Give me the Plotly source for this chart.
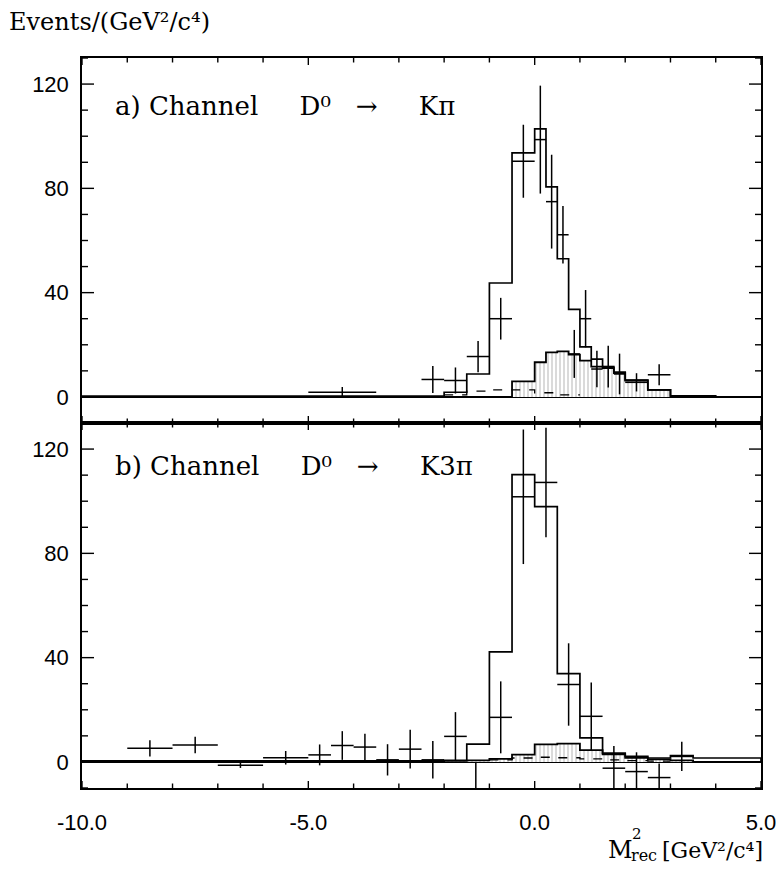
import plotly.graph_objects as go

# ---------------- data: panel a) D0 -> K pi ----------------
a_data_lo = [-5.0, -2.5, -2.0, -1.5, -1.0, -0.5, 0.0, 0.25, 0.5, 0.75, 1.0, 1.25, 1.5, 1.75, 2.0, 2.5]
a_data_hi = [-3.5, -2.0, -1.5, -1.0, -0.5, 0.0, 0.25, 0.5, 0.75, 1.0, 1.25, 1.5, 1.75, 2.0, 2.5, 3.0]
a_data_val = [1.8, 6.7, 6.3, 15.5, 30.0, 90.4, 98.7, 74.9, 62.2, 16.5, 30.0, 10.7, 11.6, 8.8, 5.6, 8.5]
a_data_err = [2.0, 5.2, 5.0, 6.0, 8.0, 14.0, 20.7, 18.0, 11.0, 9.2, 11.0, 7.0, 8.0, 7.8, 3.5, 4.0]

a_mc_edges = [-10.0, -2.0, -1.5, -1.0, -0.5, 0.0, 0.25, 0.5, 0.75, 1.0, 1.25, 1.5, 1.75, 2.0, 2.5, 3.0, 4.0]
a_mc_val = [0.3, 1.8, 8.8, 43.7, 93.6, 102.8, 80.6, 53.0, 33.6, 19.2, 14.5, 11.6, 9.5, 6.5, 2.7, 0.4]

a_bkg_edges = [-0.5, 0.0, 0.25, 0.5, 0.75, 1.0, 1.25, 1.5, 1.75, 2.0, 2.5, 3.0]
a_bkg_val = [6.0, 13.3, 17.1, 17.5, 16.2, 13.9, 11.6, 11.1, 9.1, 6.3, 2.7]

a_dash_edges = [-2.0, -1.5, -1.0, -0.5, 0.0, 0.5, 1.0]
a_dash_val = [0.8, 2.2, 2.7, 2.7, 1.6, 0.8]

# ---------------- data: panel b) D0 -> K 3pi ----------------
b_data_lo = [-9.0, -8.0, -7.0, -6.0, -5.0, -4.5, -4.0, -3.5, -3.0, -2.5, -2.0, -1.0, -0.5, 0.0, 0.5, 1.0, 1.5, 2.0, 2.5, 3.0]
b_data_hi = [-8.0, -7.0, -6.0, -5.0, -4.5, -4.0, -3.5, -3.0, -2.5, -2.0, -1.5, -0.5, 0.0, 0.5, 1.0, 1.5, 2.0, 2.5, 3.0, 3.5]
b_data_val = [5.2, 6.5, -1.3, 1.6, 2.7, 6.3, 5.7, 0.8, 4.9, 0.8, 9.8, 17.1, 101.7, 107.2, 29.7, 17.5, -2.4, -3.7, -6.0, 2.1]
b_data_err = [3.1, 3.2, 1.0, 2.6, 4.0, 5.5, 5.1, 6.0, 7.4, 7.2, 9.3, 13.8, 25.8, 21.0, 15.8, 13.0, 8.5, 7.4, 5.4, 5.6]

b_mc_edges = [-10.0, -1.5, -1.0, -0.5, 0.0, 0.5, 1.0, 1.5, 2.0, 2.5, 3.0, 3.5, 5.0]
b_mc_val = [0.4, 6.8, 42.2, 110.2, 97.9, 33.9, 9.2, 3.4, 2.1, 1.5, 2.4, 1.5]

b_bkg_edges = [-2.0, -1.0, -0.5, 0.0, 0.5, 1.0, 1.5, 2.0, 2.5, 3.0, 3.5]
b_bkg_val = [0.6, 1.2, 2.8, 6.7, 7.0, 4.5, 2.9, 1.6, 1.0, 0.6]

b_dash_edges = [-1.0, -0.5, 0.0, 0.5, 1.0, 1.5, 2.0, 2.5, 3.0]
b_dash_val = [0.8, 1.5, 1.8, 1.6, 1.2, 0.8, 0.5, 0.3]

b_cut_x = [-1.3, -1.3]
b_cut_y = [0.0, -10.0]

X_RANGE = [-10, 5]
Y_RANGE = [-10, 130]
x_tickvals = [-10, -5, 0, 5]
x_ticktext = ["-10.0", "-5.0", "0.0", "5.0"]
x_minorvals = list(range(-10, 6))
y_tickvals = [0, 40, 80, 120]
y_ticktext = ["0", "40", "80", "120"]
y_minorvals = list(range(-10, 131, 10))

SERIF = "DejaVu Serif"
SANS = "Liberation Sans, Arial, sans-serif"

PL, PR, PT, PB = 82, 761, 58, 788   # plot frame in page pixels
W, H = 780, 877
PANEL_H = (PB - PT) / 2
PLOT_W = PR - PL
X_PER_PX = (X_RANGE[1] - X_RANGE[0]) / PLOT_W
Y_PER_PX = (Y_RANGE[1] - Y_RANGE[0]) / PANEL_H


def step_xy(edges, vals, close=True):
    xs, ys = [], []
    if close:
        xs.append(edges[0]); ys.append(0)
    for e, v in zip(edges[:-1], vals):
        xs.append(e); ys.append(v)
    xs.append(edges[-1]); ys.append(0 if close else vals[-1])
    return xs, ys


fig = go.Figure()


def add_panel(xa, ya, d_lo, d_hi, d_val, d_err, mc_e, mc_v, bk_e, bk_v, ds_e, ds_v):
    centers = [(lo + hi) / 2 for lo, hi in zip(bk_e[:-1], bk_e[1:])]
    widths = [hi - lo for lo, hi in zip(bk_e[:-1], bk_e[1:])]
    fig.add_trace(go.Bar(x=centers, y=bk_v, width=widths, base=0, xaxis=xa, yaxis=ya,
                         marker=dict(color="white", line_width=0,
                                     pattern=dict(shape="|", size=4, solidity=0.22,
                                                  fgcolor="#555", bgcolor="white")),
                         showlegend=False, hoverinfo="skip"))
    bx, by = step_xy(bk_e, bk_v)
    fig.add_trace(go.Scatter(x=bx, y=by, mode="lines", line=dict(shape="hv", color="black", width=1.8),
                             xaxis=xa, yaxis=ya, showlegend=False))
    dx, dy = step_xy(ds_e, ds_v, close=False)
    fig.add_trace(go.Scatter(x=dx, y=dy, mode="lines",
                             line=dict(shape="hv", color="black", width=1.3, dash="dash"),
                             xaxis=xa, yaxis=ya, showlegend=False))
    mx, my = step_xy(mc_e, mc_v)
    fig.add_trace(go.Scatter(x=mx, y=my, mode="lines", line=dict(shape="hv", color="black", width=1.7),
                             xaxis=xa, yaxis=ya, showlegend=False))
    cx = [(lo + hi) / 2 for lo, hi in zip(d_lo, d_hi)]
    hw = [(hi - lo) / 2 for lo, hi in zip(d_lo, d_hi)]
    fig.add_trace(go.Scatter(x=cx, y=d_val, mode="markers", marker=dict(size=1, color="black"),
                             error_x=dict(type="data", array=hw, width=0, thickness=1.5, color="black"),
                             error_y=dict(type="data", array=d_err, width=0, thickness=1.5, color="black"),
                             xaxis=xa, yaxis=ya, showlegend=False))

    # inward tick marks on all four sides of the panel (major + minor), from the tick arrays
    tx, ty = [], []
    for v in x_minorvals:
        ln = (7 if v in x_tickvals else 4.5) * Y_PER_PX
        tx += [v, v, None, v, v, None]
        ty += [Y_RANGE[0], Y_RANGE[0] + ln, None, Y_RANGE[1], Y_RANGE[1] - ln, None]
    for v in y_minorvals:
        ln = (12 if v in y_tickvals else 6) * X_PER_PX
        tx += [X_RANGE[0], X_RANGE[0] + ln, None, X_RANGE[1], X_RANGE[1] - ln, None]
        ty += [v, v, None, v, v, None]
    fig.add_trace(go.Scatter(x=tx, y=ty, mode="lines", line=dict(color="black", width=1.4),
                             connectgaps=False, xaxis=xa, yaxis=ya, showlegend=False,
                             hoverinfo="skip"))


add_panel("x2", "y2", a_data_lo, a_data_hi, a_data_val, a_data_err,
          a_mc_edges, a_mc_val, a_bkg_edges, a_bkg_val, a_dash_edges, a_dash_val)
add_panel("x", "y", b_data_lo, b_data_hi, b_data_val, b_data_err,
          b_mc_edges, b_mc_val, b_bkg_edges, b_bkg_val, b_dash_edges, b_dash_val)
fig.add_trace(go.Scatter(x=b_cut_x, y=b_cut_y, mode="lines", line=dict(color="black", width=1.5),
                         xaxis="x", yaxis="y", showlegend=False))

common = dict(showline=True, linecolor="black", linewidth=1.5, showgrid=False, automargin=False,
              mirror=True, ticks="", tickfont=dict(family=SANS, size=22, color="black"))

fig.update_layout(
    width=W, height=H,
    margin=dict(l=PL, r=W - PR, t=PT, b=H - PB),
    paper_bgcolor="white", plot_bgcolor="white",
    barmode="overlay", bargap=0,
    showlegend=False,
    xaxis=dict(**common, anchor="y", domain=[0, 1], range=X_RANGE,
               tickvals=x_tickvals, ticktext=x_ticktext, zeroline=False,
               ticklabelstandoff=14, ticklabeloverflow="allow"),
    yaxis=dict(**common, anchor="x", domain=[0, 0.5], range=Y_RANGE,
               tickvals=y_tickvals, ticktext=y_ticktext, ticklabelstandoff=7,
               zeroline=True, zerolinecolor="black", zerolinewidth=1.5),
    xaxis2=dict(**common, anchor="y2", domain=[0, 1], range=X_RANGE, matches="x",
                tickvals=x_tickvals, ticktext=x_ticktext, zeroline=False, showticklabels=False),
    yaxis2=dict(**common, anchor="x2", domain=[0.5, 1], range=Y_RANGE,
                tickvals=y_tickvals, ticktext=y_ticktext, ticklabelstandoff=7,
                zeroline=True, zerolinecolor="black", zerolinewidth=1.5),
)


def px_to_paper(px, py):
    return (px - PL) / (PR - PL), (PB - py) / (PB - PT)


ann = []
x0, y0 = px_to_paper(7, 22)
ann.append(dict(text="Events/(GeV²/c⁴)", x=x0, y=y0, xanchor="left", yanchor="middle",
                font=dict(family=SERIF, size=24, color="black")))
S = "\u00a0"
x0, y0 = px_to_paper(113, 106)
ann.append(dict(text="a) Channel" + S * 4 + " D⁰" + S * 2 + " →" + S * 4 + " Kπ", x=x0, y=y0,
                xanchor="left", yanchor="middle", font=dict(family=SERIF, size=26, color="black")))
x0, y0 = px_to_paper(113, 466)
ann.append(dict(text="b) Channel" + S * 4 + " D⁰" + S * 2 + " →" + S * 4 + " K3π", x=x0, y=y0,
                xanchor="left", yanchor="middle", font=dict(family=SERIF, size=26, color="black")))
x0, y0 = px_to_paper(606, 850)
ann.append(dict(text="M", x=x0, y=y0, xanchor="left", yanchor="middle",
                font=dict(family=SERIF, size=24, color="black")))
x0, y0 = px_to_paper(630, 834)
ann.append(dict(text="2", x=x0, y=y0, xanchor="left", yanchor="middle",
                font=dict(family=SERIF, size=15, color="black")))
x0, y0 = px_to_paper(629, 855)
ann.append(dict(text="rec", x=x0, y=y0, xanchor="left", yanchor="middle",
                font=dict(family=SERIF, size=16, color="black")))
x0, y0 = px_to_paper(660, 850)
ann.append(dict(text="[GeV²/c⁴]", x=x0, y=y0, xanchor="left", yanchor="middle",
                font=dict(family=SERIF, size=22, color="black")))
for a in ann:
    a.update(xref="paper", yref="paper", showarrow=False)
fig.update_layout(annotations=ann)

fig.write_html("out.html", config={"displayModeBar": False},
               post_script="document.body.style.margin='0px';")
